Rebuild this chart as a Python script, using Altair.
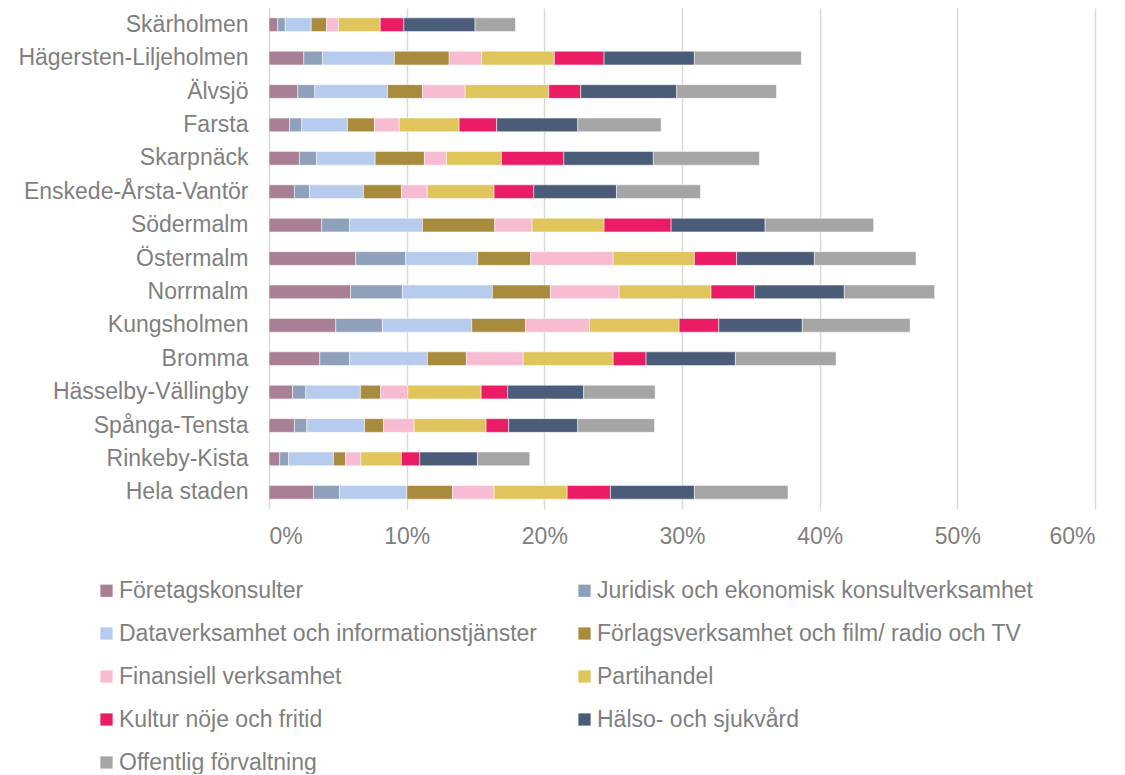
import altair as alt
import pandas as pd

districts = [
    "Skärholmen", "Hägersten-Liljeholmen", "Älvsjö", "Farsta", "Skarpnäck",
    "Enskede-Årsta-Vantör", "Södermalm", "Östermalm", "Norrmalm", "Kungsholmen",
    "Bromma", "Hässelby-Vällingby", "Spånga-Tensta", "Rinkeby-Kista", "Hela staden",
]

series = [
    "Företagskonsulter",
    "Juridisk och ekonomisk konsultverksamhet",
    "Dataverksamhet och informationstjänster",
    "Förlagsverksamhet och film/ radio och TV",
    "Finansiell verksamhet",
    "Partihandel",
    "Kultur nöje och fritid",
    "Hälso- och sjukvård",
    "Offentlig förvaltning",
]

colors = ["#A97F95", "#8FA0BA", "#B6CBED", "#A98B3E", "#F7BCD1",
          "#E0C45C", "#EB1C66", "#4B5C79", "#A5A5A5"]

# percent values, one list per series, in district order
foretagskonsulter = [0.64, 2.53, 2.09, 1.49, 2.21, 1.85, 3.83, 6.30, 5.92, 4.85, 3.69, 1.71, 1.85, 0.78, 3.23]
juridisk = [0.54, 1.36, 1.24, 0.89, 1.24, 1.09, 2.02, 3.63, 3.77, 3.39, 2.16, 0.96, 0.90, 0.64, 1.89]
dataverksamhet = [1.89, 5.22, 5.28, 3.32, 4.26, 3.92, 5.30, 5.23, 6.54, 6.49, 5.66, 3.97, 4.19, 3.26, 4.89]
forlag = [1.11, 3.98, 2.54, 1.96, 3.58, 2.76, 5.25, 3.85, 4.21, 3.90, 2.83, 1.46, 1.38, 0.88, 3.32]
finansiell = [0.87, 2.36, 3.10, 1.80, 1.60, 1.87, 2.71, 5.99, 4.99, 4.65, 4.12, 1.98, 2.22, 1.11, 3.02]
partihandel = [3.03, 5.28, 6.07, 4.35, 3.99, 4.86, 5.23, 5.90, 6.68, 6.51, 6.54, 5.33, 5.23, 2.95, 5.31]
kultur = [1.71, 3.61, 2.32, 2.73, 4.53, 2.88, 4.87, 3.07, 3.17, 2.88, 2.39, 1.93, 1.64, 1.33, 3.14]
halso = [5.18, 6.56, 6.98, 5.89, 6.51, 6.01, 6.83, 5.65, 6.51, 6.07, 6.49, 5.52, 5.02, 4.19, 6.10]
offentlig = [2.93, 7.77, 7.24, 6.05, 7.70, 6.10, 7.88, 7.38, 6.56, 7.83, 7.31, 5.19, 5.57, 3.80, 6.80]

values = [foretagskonsulter, juridisk, dataverksamhet, forlag, finansiell,
          partihandel, kultur, halso, offentlig]

rows = []
for si, (s, vals) in enumerate(zip(series, values)):
    for d, v in zip(districts, vals):
        rows.append({"district": d, "series": s, "order": si, "value": v / 100.0})
df = pd.DataFrame(rows)

FONT = "Liberation Sans"
GRAY = "#7F7F7F"
FS = 23

chart = alt.Chart(df).mark_bar(stroke="white", strokeWidth=0.5).encode(
    x=alt.X("value:Q", stack="zero",
            scale=alt.Scale(domain=[0, 0.6], nice=False),
            axis=alt.Axis(format=".0%", values=[0, 0.1, 0.2, 0.3, 0.4, 0.5, 0.6],
                          title=None, ticks=False, domain=False,
                          grid=True, gridColor="#D9D9D9", gridWidth=1.5,
                          labelFont=FONT, labelFontSize=FS, labelColor=GRAY,
                          labelPadding=16)),
    y=alt.Y("district:N", sort=districts,
            scale=alt.Scale(paddingInner=0.59, paddingOuter=0.295),
            axis=alt.Axis(title=None, ticks=False, domain=False, grid=False,
                          labelFont=FONT, labelFontSize=FS, labelColor=GRAY,
                          labelPadding=21, labelLimit=400)),
    color=alt.Color("series:N",
                    scale=alt.Scale(domain=series, range=colors),
                    legend=alt.Legend(title=None, orient="none",
                                      legendX=-174, legendY=571,
                                      columns=2, direction="horizontal",
                                      symbolType="square", symbolSize=150,
                                      symbolStrokeWidth=0,
                                      labelFont=FONT, labelFontSize=FS,
                                      labelColor=GRAY, labelLimit=600,
                                      labelOffset=1, rowPadding=19,
                                      columnPadding=35)),
    order=alt.Order("order:Q", sort="ascending"),
).properties(
    width=826, height=501,
    autosize=alt.AutoSizeParams(type="none"),
    padding={"left": 261, "top": 0, "right": 21, "bottom": 265},
).configure_view(stroke=None)

chart.save("out.html", embed_options={"renderer": "svg", "actions": False})
